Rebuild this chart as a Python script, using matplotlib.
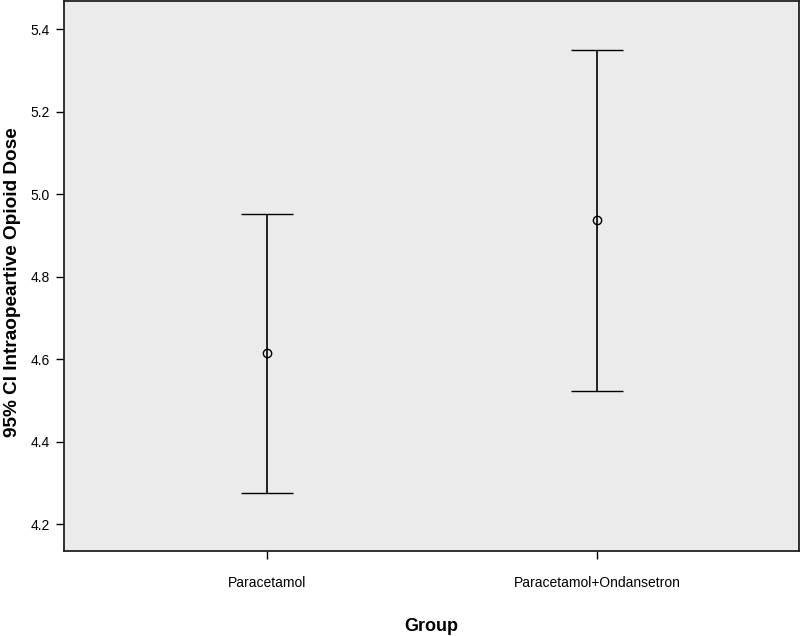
import matplotlib
matplotlib.use("Agg")
import matplotlib.pyplot as plt

groups = ["Paracetamol", "Paracetamol+Ondansetron"]
means = [4.615, 4.938]
lower = [4.275, 4.522]
upper = [4.951, 5.349]
yticks = [4.2, 4.4, 4.6, 4.8, 5.0, 5.2, 5.4]

plt.rcParams['font.family'] = ['Liberation Sans', 'DejaVu Sans']

fig = plt.figure(figsize=(8, 6.36), dpi=100)
ax = fig.add_axes([0.08, 0.1336, 0.919, 0.8644])
ax.set_facecolor('#ebebeb')

x = list(range(len(groups)))
yerr = [[m - l for m, l in zip(means, lower)], [u - m for m, u in zip(means, upper)]]
ax.errorbar(x, means, yerr=yerr, fmt='o', color='black', mfc='none', mec='black',
            ms=6, mew=1.0, ecolor='black', elinewidth=1.2, capsize=18.7, capthick=1.3)

ax.set_xlim(-0.615, 1.612)
ax.set_ylim(4.1345, 5.468)
ax.set_xticks(x)
ax.set_xticklabels(groups, fontsize=10)
ax.set_yticks(yticks)
ax.set_yticklabels([f"{v:.1f}" for v in yticks], fontsize=10)
ax.tick_params(axis='both', direction='out', length=6, width=1, color='black', pad=4)
ax.tick_params(axis='x', pad=12)
for s in ax.spines.values():
    s.set_linewidth(1.3)
    s.set_color('#222222')
ax.set_ylabel("95% CI Intraopeartive Opioid Dose", fontsize=13.7, fontweight='bold', labelpad=10)
ax.yaxis.set_label_coords(-0.058, 0.49)
ax.set_xlabel("Group", fontsize=13, fontweight='bold', labelpad=20)

fig.savefig("out.png", dpi=100)
